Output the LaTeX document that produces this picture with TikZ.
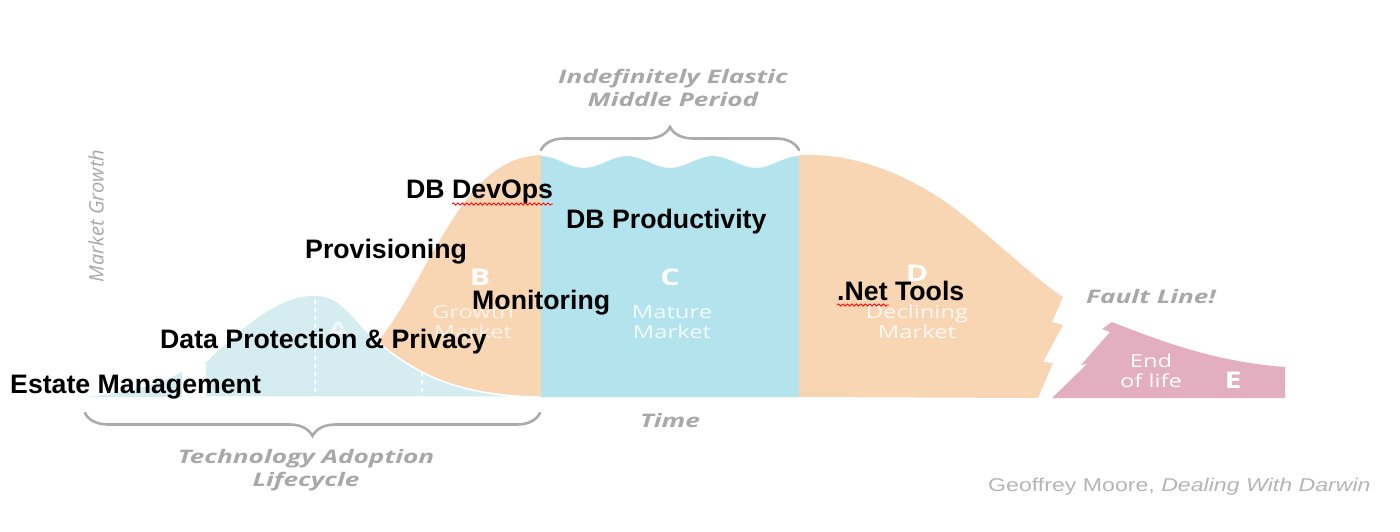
\documentclass[tikz,border=0pt]{standalone}
\usepackage{fontspec}
\setmainfont{Liberation Sans}
\newfontfamily\osans{Open Sans}
\newfontfamily\gsans[FakeStretch=1.4]{Open Sans}
\newfontfamily\wsans[FakeStretch=1.32]{Open Sans}
\newfontfamily\attrfont[FakeStretch=1.25]{Liberation Sans}
\usetikzlibrary{decorations.pathreplacing,decorations.pathmorphing}
\definecolor{cA}{HTML}{D5ECF1}
\definecolor{cB}{HTML}{F8D5B3}
\definecolor{cC}{HTML}{B3E4EE}
\definecolor{cE}{HTML}{E2AEC0}
\definecolor{gtext}{HTML}{A8A8A8}
\definecolor{gbrace}{HTML}{ABABAB}
\tikzset{
  lab/.style={anchor=base west, inner sep=0pt, font=\fontsize{26.7}{30}\selectfont\bfseries, text=black},
  gray title/.style={inner sep=0pt, align=center, text=gtext, font=\gsans\fontsize{18.7}{23.5}\selectfont\bfseries\itshape},
  big letter/.style={inner sep=0pt, text=white, font=\wsans\fontsize{23}{26}\selectfont\bfseries},
  small white/.style={inner sep=0pt, align=center, text=white, font=\wsans\fontsize{18}{20}\selectfont},
  bracestyle/.style={draw=gbrace, line width=2.6pt, line cap=round, decorate, decoration={brace, amplitude=23pt}},
  spell/.style={draw=red, line width=0.8pt, decorate, decoration={snake, amplitude=1.1pt, segment length=4.5pt}}
}
\begin{document}
\begin{tikzpicture}[x=1pt,y=-1pt]
\useasboundingbox (0,0) rectangle (1400,531);
% B region (growth)
\fill[cB] (372,348) .. controls (400,318) and (420,272) .. (440,240)
  .. controls (468,192) and (495,157) .. (541,155) -- (541,397) -- (372,397) -- cycle;
% A region (technology adoption)
\fill[cA] (85,397) .. controls (125,394) and (160,384) .. (182,372) -- (182,397) -- cycle;
\filldraw[fill=cA, draw=white, line width=1.5pt] (205,397) -- (205,362)
  .. controls (240,330) and (275,295) .. (315,295)
  .. controls (345,295) and (355,325) .. (385,348)
  .. controls (420,375) and (460,396) .. (540,397) -- cycle;
\draw[white, line width=1.5pt, dash pattern=on 4pt off 4pt] (315,300) -- (315,397);
\draw[white, line width=1.5pt, dash pattern=on 4pt off 4pt] (422,372) -- (422,397);
% C region (mature)
\fill[cC] (541,397) -- (541,156)
  .. controls (556,156) and (569,168) .. (584,168)
  .. controls (599,168) and (612,156) .. (627,156)
  .. controls (642,156) and (655,168) .. (670,168)
  .. controls (685,168) and (698,156) .. (713,156)
  .. controls (728,156) and (741,168) .. (756,168)
  .. controls (771,168) and (784,156) .. (799,156)
  -- (799,397) -- cycle;
% D region (declining)
\fill[cB] (799,397) -- (799,155)
  .. controls (850,153) and (900,170) .. (950,205)
  .. controls (990,235) and (1030,275) .. (1063,297)
  -- (1052,322) -- (1063,325) -- (1043,362) -- (1053,363) -- (1038,398) -- cycle;
% E region (end of life)
\fill[cE] (1052,398) -- (1087,364) -- (1081,365) -- (1110,332) -- (1102,329) -- (1112,322)
  .. controls (1170,345) and (1220,362) .. (1285,367) -- (1285,398) -- cycle;

% braces
\coordinate (tbL) at (541,150);
\coordinate (tbR) at (799,150);
\draw[bracestyle] (tbL) -- (tbR);
\coordinate (bbL) at (85,413);
\coordinate (bbR) at (540,413);
\draw[bracestyle] (bbR) -- (bbL);

% region letters and captions
\node[big letter, text opacity=0.6] (la) at (338,330) {A};
\node[big letter] (lb) at (480,277) {B};
\node[small white, text opacity=0.7] (gb) at (473,322) {Growth\\Market};
\node[big letter] (lc) at (670,277) {C};
\node[small white, text opacity=0.85] (gc) at (672,322) {Mature\\Market};
\node[big letter] (ld) at (917,273) {D};
\node[small white, text opacity=0.85] (gd) at (917,322) {Declining\\Market};
\node[small white] (ge) at (1151,371) {End\\of life};
\node[big letter] (le) at (1233,380) {E};

% gray titles
\node[gray title] (elastic) at (673,88) {Indefinitely Elastic\\Middle Period};
\node[gray title] (tal) at (306,470) {Technology Adoption\\Lifecycle};
\node[gray title] (time) at (670,420) {Time};
\node[gray title, anchor=base west] (fault) at (1086,303) {Fault Line!};
\node[gray title, font=\osans\fontsize{20}{22}\selectfont\itshape, rotate=90] (mg) at (96,216) {Market Growth};
\node[anchor=base west, inner sep=0pt, text=gtext!85, font=\attrfont\fontsize{18.5}{22}\selectfont] (attr) at (988,491) {Geoffrey Moore, \textit{Dealing With Darwin}};

% black labels
\node[lab] (estate) at (10,393) {Estate Management};
\node[lab] (dpp) at (160,348) {Data Protection \& Privacy};
\node[lab] (prov) at (305,258) {Provisioning};
\node[lab] (devops) at (406,198) {DB DevOps};
\node[lab] (prod) at (566,228) {DB Productivity};
\node[lab] (mon) at (472,309) {Monitoring};
\node[lab] (net) at (837,300) {.Net Tools};

% spell-check squiggles
\draw[spell] (452,204) -- (553,204);
\draw[spell] (837,305) -- (889,305);
\end{tikzpicture}
\end{document}
